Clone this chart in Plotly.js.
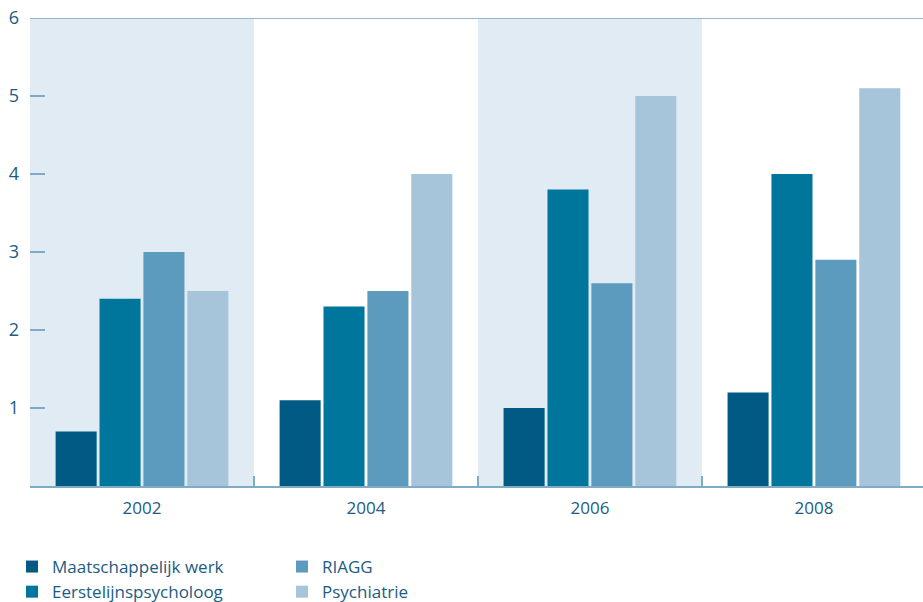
<!DOCTYPE html>
<html>
<head>
<meta charset="utf-8">
<script src="https://cdn.plot.ly/plotly-3.0.1.min.js"></script>
<style>html,body{margin:0;padding:0;background:#fff;}#chart{width:923px;height:602px;}</style>
</head>
<body>
<div id="chart"></div>
<script>
const years = ['2002', '2004', '2006', '2008'];
const seriesNames = ['Maatschappelijk werk', 'Eerstelijnspsycholoog', 'RIAGG', 'Psychiatrie'];
const maatschappelijk = [0.7, 1.1, 1.0, 1.2];
const eerstelijns = [2.4, 2.3, 3.8, 4.0];
const riagg = [3.0, 2.5, 2.6, 2.9];
const psychiatrie = [2.5, 4.0, 5.0, 5.1];
const yTicks = [1, 2, 3, 4, 5, 6];
const shadedYears = [0, 2];

const colors = ['#005a83', '#00769d', '#5c9bbe', '#a6c5da'];
const values = [maatschappelijk, eerstelijns, riagg, psychiatrie];
const legends = ['legend', 'legend', 'legend2', 'legend2'];
const textColor = '#1b5c82';
const lineColor = '#7fabc6';

const traces = values.map((v, i) => ({
  type: 'bar', x: years, y: v, name: seriesNames[i],
  marker: {color: colors[i], line: {width: 0}},
  legend: legends[i], hoverinfo: 'skip'
}));

const shapes = shadedYears.map(c => ({
  type: 'rect', xref: 'x', yref: 'paper', x0: c - 0.5, x1: c + 0.5, y0: 0, y1: 1,
  fillcolor: '#e0ebf4', line: {width: 0}, layer: 'below'
}));
shapes.push({type: 'line', xref: 'paper', yref: 'y', x0: 0, x1: 1, y0: 6, y1: 6,
  line: {color: '#94b9cf', width: 2}});

const legendCommon = {
  xref: 'container', yref: 'container', xanchor: 'left', yanchor: 'top',
  orientation: 'v', font: {family: 'Open Sans, sans-serif', size: 17, color: textColor},
  bgcolor: 'rgba(0,0,0,0)', tracegroupgap: 0, itemwidth: 30
};

const layout = {
  width: 923, height: 602,
  margin: {l: 30, r: 0, t: 18, b: 116, autoexpand: false},
  paper_bgcolor: '#ffffff', plot_bgcolor: 'rgba(0,0,0,0)',
  font: {family: 'Open Sans, sans-serif', size: 17, color: textColor},
  barmode: 'group', bargap: 0.216, bargroupgap: 0.065,
  showlegend: true,
  xaxis: {
    type: 'category', tickson: 'boundaries', ticks: 'inside', ticklen: 10,
    tickcolor: lineColor, tickwidth: 1.5, showline: true, linecolor: lineColor, linewidth: 2,
    showgrid: false, zeroline: false, range: [-0.5, 3.487], fixedrange: true,
    tickfont: {size: 17, color: textColor}, ticklabelstandoff: 6
  },
  yaxis: {
    range: [0, 6], tickvals: yTicks, ticks: 'inside', ticklen: 15, tickwidth: 2,
    tickcolor: lineColor, showline: false, showgrid: false, zeroline: false,
    tickfont: {size: 18, color: textColor}, ticklabelstandoff: 10, fixedrange: true
  },
  shapes: shapes,
  legend: Object.assign({}, legendCommon, {x: 12 / 923, y: 1 - 549 / 602}),
  legend2: Object.assign({}, legendCommon, {x: 282 / 923, y: 1 - 549 / 602})
};

Plotly.newPlot('chart', traces, layout, {displayModeBar: false, staticPlot: true});
</script>
</body>
</html>
